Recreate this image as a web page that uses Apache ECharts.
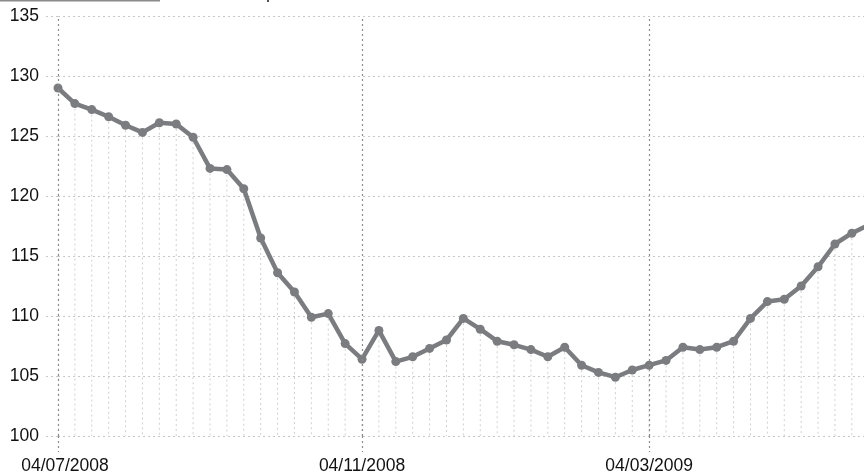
<!DOCTYPE html>
<html>
<head>
<meta charset="utf-8">
<script src="https://cdn.jsdelivr.net/npm/echarts@6/dist/echarts.min.js"></script>
<style>
  html, body { margin: 0; padding: 0; background: #fff; }
  #chart { width: 864px; height: 475px; }
</style>
</head>
<body>
<div id="chart"></div>
<script>
// valeurs (un point par semaine environ)
var values = [
  129.0, 127.7, 127.2, 126.6, 125.9, 125.3, 126.1, 126.0, 124.9, 122.3,
  122.2, 120.6, 116.5, 113.6, 112.0, 109.9, 110.2, 107.7, 106.4, 108.8,
  106.2, 106.6, 107.3, 108.0, 109.8, 108.9, 107.9, 107.6, 107.2, 106.6,
  107.4, 105.9, 105.3, 104.9, 105.5, 105.9, 106.3, 107.4, 107.2, 107.4,
  107.9, 109.8, 111.2, 111.4, 112.5, 114.1, 116.0, 116.9, 117.6
];
// positions des dates affichées
var tickIndex = [0, 18, 35];
var tickLabels = ['04/07/2008', '04/11/2008', '04/03/2009'];
var yMin = 100, yMax = 135, yStep = 5;

var points = values.map(function (v, i) { return [i, v]; });
var xMax = 47.72; // la courbe sort du cadre a droite

var lineColor = '#7b7c80';
var font = 'Liberation Sans';

var chart = echarts.init(document.getElementById('chart'), null, { renderer: 'canvas' });
var option = {
  animation: false,
  grid: { left: 58, right: 0, top: 16, bottom: 39, containLabel: false },
  graphic: [
    { type: 'rect', shape: { x: 0, y: 0, width: 160, height: 1.5 }, style: { fill: '#8a8a8a' } },
    { type: 'rect', shape: { x: 267, y: 0, width: 2, height: 2 }, style: { fill: '#555' } }
  ],
  xAxis: {
    type: 'value',
    min: 0,
    max: xMax,
    axisLine: { show: false },
    axisTick: {
      show: true,
      customValues: tickIndex,
      length: 16,
      lineStyle: { color: '#8c8c8c', width: 1.2, type: [2, 3] }
    },
    axisLabel: {
      show: true,
      customValues: tickIndex,
      margin: 21,
      color: '#111',
      fontFamily: font,
      fontSize: 17.5,
      formatter: function (val) {
        var k = tickIndex.indexOf(Math.round(val));
        if (k < 0) return '';
        return k === 0 ? '{first|' + tickLabels[k] + '}' : tickLabels[k];
      },
      rich: {
        first: { fontFamily: font, fontSize: 17.5, color: '#111', padding: [0, 0, 0, 14] }
      }
    },
    splitLine: { show: false }
  },
  yAxis: {
    type: 'value',
    min: yMin,
    max: yMax,
    interval: yStep,
    axisLine: { show: false },
    axisTick: {
      show: true,
      length: 13,
      lineStyle: { color: '#c8c8c8', width: 1, type: [2, 3] }
    },
    axisLabel: {
      margin: 19,
      color: '#111',
      fontFamily: font,
      fontSize: 17.5
    },
    splitLine: {
      show: true,
      lineStyle: { color: '#c8c8c8', width: 1, type: [2, 3] }
    }
  },
  series: [
    {
      // lignes verticales sous chaque point
      type: 'custom',
      data: points,
      silent: true,
      clip: true,
      z: 1,
      renderItem: function (params, api) {
        var top = api.coord([api.value(0), api.value(1)]);
        var bottom = api.coord([api.value(0), yMin]);
        return {
          type: 'line',
          shape: { x1: top[0], y1: top[1], x2: bottom[0], y2: bottom[1] },
          style: { stroke: '#d0d0d0', lineWidth: 1, lineDash: [2, 3] }
        };
      }
    },
    {
      type: 'line',
      data: points,
      clip: true,
      symbol: 'circle',
      symbolSize: 9,
      showSymbol: true,
      itemStyle: { color: lineColor },
      lineStyle: { color: lineColor, width: 4.5 },
      markLine: {
        silent: true,
        symbol: 'none',
        label: { show: false },
        lineStyle: { color: '#8c8c8c', width: 1.2, type: [2, 3] },
        data: tickIndex.map(function (i) { return { xAxis: i }; })
      },
      z: 3
    }
  ]
};
chart.setOption(option);
</script>
</body>
</html>
